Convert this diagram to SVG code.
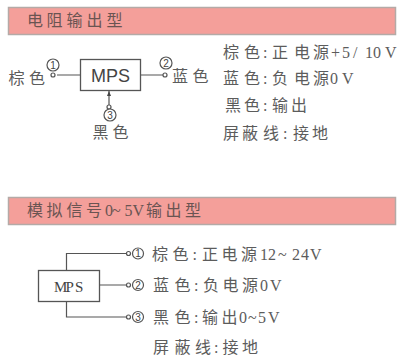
<svg xmlns="http://www.w3.org/2000/svg" width="397" height="358" viewBox="0 0 397 358">
<style>
text{font-family:"Liberation Serif","Noto Sans CJK SC",serif;fill:#5c5c5c;font-size:16px}
.h{fill:#6a5452}
.n{font-size:10px;text-anchor:middle;font-family:"Liberation Sans",sans-serif;fill:#444}
.bar{fill:#f49f9a;stroke:#b4aaa7;stroke-width:1.5}
.box{fill:#fff;stroke:#555;stroke-width:1.3}
.c{fill:none;stroke:#555;stroke-width:1.2}
.o{fill:#fff;stroke:#555;stroke-width:1.2}
.ring{fill:#fff;stroke:#555;stroke-width:1.2}
</style>
<rect width="397" height="358" fill="#fff"/>
<g id="header-1"><rect class="bar" x="8.5" y="7.5" width="387" height="27"/><text class="h" x="27 46.5 66.5 86.5 106.5" y="26">电阻输出型</text></g>
<g id="connectors">
<path class="c" d="M57 75H80M140 75H163M109 91V105"/>
<path d="M109 91l-2 5h4z" fill="#444"/>
<path class="c" d="M66.5 270V253.500H127M99 285H127M66.500 301V317H127"/>
</g>
<g id="mps-1"><rect class="box" x="80.500" y="59.500" width="60" height="31"/><text x="110.500" y="82" text-anchor="middle" style="font-family:'Liberation Sans',sans-serif;font-size:18px;fill:#444">MPS</text></g>
<g id="pin-1-1"><circle class="o" cx="53" cy="75" r="2"/><circle class="ring" cx="53" cy="65" r="6"/><text class="n" x="53" y="68.500">1</text><text x="8.500 29" y="84">棕色</text></g>
<g id="pin-1-2"><circle class="o" cx="165" cy="75" r="2"/><circle class="ring" cx="166" cy="63" r="6"/><text class="n" x="166" y="66.500">2</text><text x="172 192.500" y="82">蓝色</text></g>
<g id="pin-1-3"><circle class="o" cx="109" cy="107" r="2"/><circle class="ring" cx="110" cy="115" r="6"/><text class="n" x="110" y="118.500">3</text><text x="92.500 112.500" y="138">黑色</text></g>
<g id="legend-1">
<text x="223 244 263 272 294 313 331 342 353 365 373 385" y="58">棕色:正电源+5/10V</text>
<text x="223 244 263 272 294 313 330 342" y="84">蓝色:负电源0V</text>
<text x="225 244 263 272 291" y="111">黑色:输出</text>
<text x="223 242 263 283 293 312" y="139">屏蔽线:接地</text>
</g>
<g id="header-2"><rect class="bar" x="8.500" y="197.500" width="387" height="27"/><text class="h" x="27 46.500 66.500 86 105 112 124.500 132.500 146 165.500 185" y="216">模拟信号0~5V输出型</text></g>
<g id="mps-2"><rect class="box" x="38.500" y="270.500" width="61" height="31"/><text x="54 65.500 75" y="292" style="font-family:'Liberation Serif',serif;font-size:15px;fill:#444">MPS</text></g>
<g id="pin-2-1"><circle class="o" cx="128.500" cy="253.500" r="2"/><circle class="ring" cx="138" cy="253.500" r="5.500"/><text class="n" x="138" y="257">1</text><text x="152 172.500 192.500 202 221.500 241 260 268 278 292 301 310" y="260">棕色:正电源12~24V</text></g>
<g id="pin-2-2"><circle class="o" cx="128.500" cy="285" r="2"/><circle class="ring" cx="138" cy="285" r="5.500"/><text class="n" x="138" y="288.500">2</text><text x="153 174.500 194 203 222.500 242 260 270" y="291">蓝色:负电源0V</text></g>
<g id="pin-2-3"><circle class="o" cx="128.500" cy="317" r="2"/><circle class="ring" cx="138" cy="317" r="5.500"/><text class="n" x="138" y="320.500">3</text><text x="153 174.500 194 202 221.500 239 248 258 268" y="323">黑色:输出0~5V</text></g>
<g id="note-2"><text x="153 174.500 195 214 222.500 242" y="353">屏蔽线:接地</text></g>
</svg>
